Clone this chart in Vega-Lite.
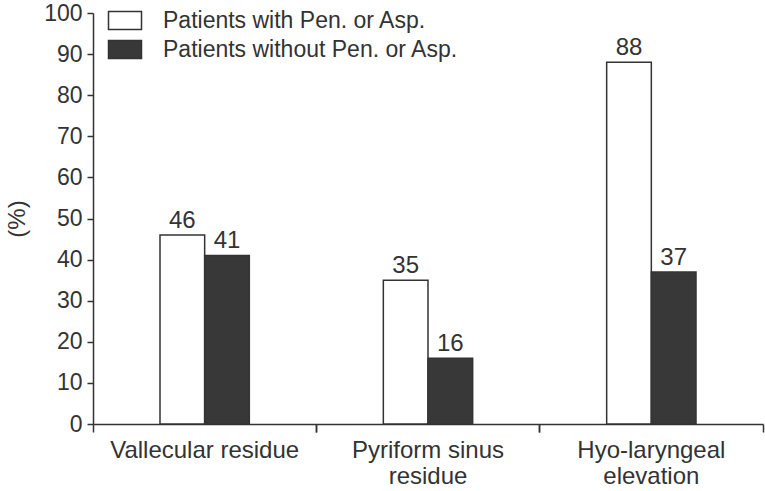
{
  "$schema": "https://vega.github.io/schema/vega-lite/v6.json",
  "width": 670,
  "height": 411,
  "autosize": {"type": "none"},
  "padding": {"left": 93, "top": 13, "right": 2, "bottom": 67},
  "background": "white",
  "config": {
    "view": {"stroke": null},
    "font": "Liberation Sans",
    "axis": {"domainColor": "#333333", "domainWidth": 1.5, "tickColor": "#333333", "tickWidth": 1.5, "labelColor": "#333333", "titleColor": "#333333", "grid": false}
  },
  "data": {
    "values": [
      {"category": "Vallecular residue", "group": "Patients with Pen. or Asp.", "value": 46},
      {"category": "Vallecular residue", "group": "Patients without Pen. or Asp.", "value": 41},
      {"category": "Pyriform sinus residue", "group": "Patients with Pen. or Asp.", "value": 35},
      {"category": "Pyriform sinus residue", "group": "Patients without Pen. or Asp.", "value": 16},
      {"category": "Hyo-laryngeal elevation", "group": "Patients with Pen. or Asp.", "value": 88},
      {"category": "Hyo-laryngeal elevation", "group": "Patients without Pen. or Asp.", "value": 37}
    ]
  },
  "encoding": {
    "x": {"field": "category", "type": "nominal", "sort": null, "scale": {"paddingInner": 0, "paddingOuter": 0}},
    "xOffset": {"field": "group", "type": "nominal",
      "scale": {"domain": ["_left", "Patients with Pen. or Asp.", "Patients without Pen. or Asp.", "_right"], "paddingInner": 0, "paddingOuter": 0.5}},
    "y": {"field": "value", "type": "quantitative", "scale": {"domain": [0, 100]},
      "axis": {"title": "(%)", "values": [0,10,20,30,40,50,60,70,80,90,100], "labelFontSize": 23, "labelPadding": 5, "tickSize": 6, "titleFontSize": 24, "titleFontWeight": "normal", "titlePadding": 14}}
  },
  "layer": [
    {
      "mark": {"type": "bar", "stroke": "#333333", "strokeWidth": 1.5},
      "encoding": {
        "x": {"field": "category", "type": "nominal", "sort": null, "title": null,
          "axis": {"bandPosition": 0, "labelAngle": 0, "labelFontSize": 24, "labelLimit": 400, "tickSize": 8, "labelPadding": 6, "labelLineHeight": 26,
            "labelExpr": "datum.value == 'Pyriform sinus residue' ? ['Pyriform sinus', 'residue'] : datum.value == 'Hyo-laryngeal elevation' ? ['Hyo-laryngeal', 'elevation'] : datum.value"}},
        "fill": {"field": "group", "type": "nominal",
          "scale": {"domain": ["Patients with Pen. or Asp.", "Patients without Pen. or Asp."], "range": ["#ffffff", "#383838"]},
          "legend": {"title": null, "orient": "none", "legendX": 20.5, "legendY": -4, "padding": 0, "labelFontSize": 23, "labelColor": "#333333", "labelOffset": 26.5, "labelLimit": 500, "rowPadding": 4,
            "symbolType": "M-1.65,-0.9H1.65V0.9H-1.65Z", "symbolSize": 400, "symbolStrokeColor": "#333333", "symbolStrokeWidth": 1.5}}
      }
    },
    {
      "mark": {"type": "text", "baseline": "alphabetic", "dy": -7, "fontSize": 24, "color": "#333333"},
      "encoding": {
        "x": {"field": "category", "type": "nominal", "sort": null, "title": null,
          "axis": {"bandPosition": 1, "orient": "bottom", "labels": false, "domain": false, "tickSize": 8}},
        "text": {"field": "value", "type": "quantitative"}
      }
    }
  ],
  "resolve": {"axis": {"x": "independent"}}
}
